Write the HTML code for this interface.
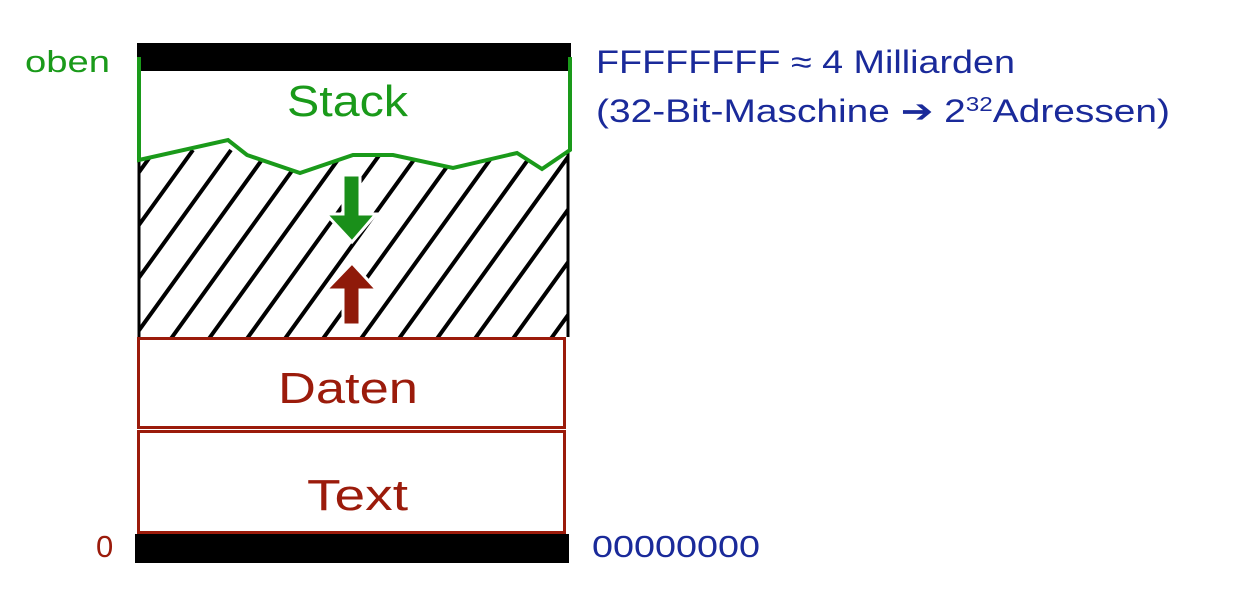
<!DOCTYPE html>
<html><head><meta charset="utf-8"><style>
html,body{margin:0;padding:0;background:#fff;width:1233px;height:600px;overflow:hidden}
svg text{font-family:"Liberation Sans",sans-serif}
</style></head><body>
<svg width="1233" height="600" viewBox="0 0 1233 600">
<defs>
<clipPath id="c"><path d="M139,160 L228,140 L247,155 L300,173 L353,155 L393,155 L453,168 L517,153 L542,169 L569,150 L569,337 L139,337 Z"/></clipPath>
</defs>
<g clip-path="url(#c)" stroke="#000" stroke-width="4">
<line x1="-20" y1="340" x2="117" y2="150"/><line x1="18" y1="340" x2="155" y2="150"/>
<line x1="56" y1="340" x2="193" y2="150"/><line x1="94" y1="340" x2="231" y2="150"/>
<line x1="132" y1="340" x2="269" y2="150"/><line x1="170" y1="340" x2="307" y2="150"/>
<line x1="208" y1="340" x2="345" y2="150"/><line x1="246" y1="340" x2="383" y2="150"/>
<line x1="284" y1="340" x2="421" y2="150"/><line x1="322" y1="340" x2="459" y2="150"/>
<line x1="360" y1="340" x2="497" y2="150"/><line x1="398" y1="340" x2="535" y2="150"/>
<line x1="436" y1="340" x2="573" y2="150"/><line x1="474" y1="340" x2="611" y2="150"/>
<line x1="512" y1="340" x2="649" y2="150"/><line x1="550" y1="340" x2="687" y2="150"/>
</g>
<line x1="139" y1="160" x2="139" y2="337" stroke="#000" stroke-width="3"/>
<line x1="568" y1="150" x2="568" y2="337" stroke="#000" stroke-width="3"/>
<polygon points="343,175 360,175 360,214 376,214 352,242 326,214 343,214" fill="#1a8f1a" stroke="#fff" stroke-width="3"/>
<polygon points="352,263 377,290 360,290 360,325 343,325 343,290 326,290" fill="#8f1a0a" stroke="#fff" stroke-width="3"/>
<rect x="137" y="43" width="434" height="28" fill="#000"/>
<path d="M139,57 V160 L228,140 L247,155 L300,173 L353,155 L393,155 L453,168 L517,153 L542,169 L570,150 V57" fill="none" stroke="#1a9a1a" stroke-width="4"/>
<text x="287" y="116" font-size="44" fill="#1a9a1a" textLength="121" lengthAdjust="spacingAndGlyphs">Stack</text>
<rect x="138.5" y="338.5" width="426" height="89" fill="none" stroke="#9b1b0b" stroke-width="3"/>
<rect x="138.5" y="431.5" width="426" height="101" fill="none" stroke="#9b1b0b" stroke-width="3"/>
<text x="278" y="403" font-size="44" fill="#9b1b0b" textLength="140" lengthAdjust="spacingAndGlyphs">Daten</text>
<text x="307" y="510" font-size="44" fill="#9b1b0b" textLength="101" lengthAdjust="spacingAndGlyphs">Text</text>
<rect x="135" y="534" width="434" height="29" fill="#000"/>
<text x="25" y="72" font-size="31" fill="#1a9a1a" textLength="85" lengthAdjust="spacingAndGlyphs">oben</text>
<text x="96" y="557" font-size="31" fill="#9b1b0b">0</text>
<text x="592" y="557" font-size="31" fill="#1a2a9a" textLength="168" lengthAdjust="spacingAndGlyphs">00000000</text>
<text x="596" y="73" font-size="32" fill="#1a2a9a" textLength="419" lengthAdjust="spacingAndGlyphs">FFFFFFFF ≈ 4 Milliarden</text>
<text x="596" y="122" font-size="32" fill="#1a2a9a" textLength="574" lengthAdjust="spacingAndGlyphs">(32-Bit-Maschine ➔ 2<tspan font-size="20" dy="-11">32</tspan><tspan dy="11">Adressen)</tspan></text>
</svg>
</body></html>
